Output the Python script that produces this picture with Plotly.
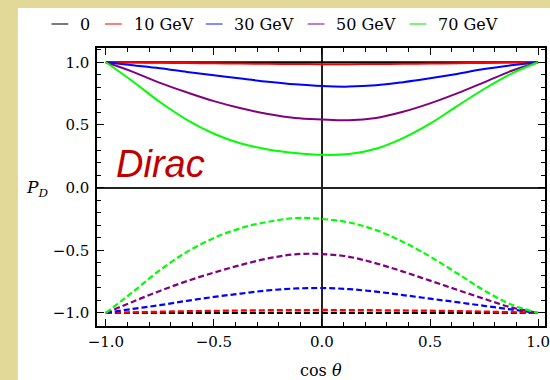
import plotly.graph_objects as go

# Polarisation P_D of the Dirac case versus cos(theta), for several energies
labels = ["0", "10 GeV", "30 GeV", "50 GeV", "70 GeV"]
colors = ["#000000", "#FF0000", "#0000FF", "#800080", "#00FF00"]
legend_colors = ["#505050", "#FF5050", "#6060FF", "#B050B0", "#50F050"]

cos_theta = [-1, -0.875, -0.75, -0.625, -0.5, -0.375, -0.25, -0.125, 0,
             0.125, 0.25, 0.375, 0.5, 0.625, 0.75, 0.875, 1]

# upper branch (solid)
p_plus = [
    [1.0] * 17,
    [1, 0.998, 0.996, 0.994, 0.992, 0.99, 0.988, 0.986, 0.985, 0.985, 0.986, 0.988, 0.99, 0.992, 0.995, 0.998, 1],
    [1, 0.976, 0.952, 0.923, 0.896, 0.87, 0.845, 0.824, 0.81, 0.806, 0.816, 0.841, 0.872, 0.907, 0.946, 0.976, 1],
    [1, 0.924, 0.836, 0.76, 0.69, 0.633, 0.587, 0.555, 0.543, 0.537, 0.556, 0.605, 0.672, 0.752, 0.84, 0.93, 1],
    [1, 0.847, 0.683, 0.541, 0.43, 0.352, 0.305, 0.277, 0.262, 0.268, 0.31, 0.395, 0.51, 0.65, 0.787, 0.908, 1],
]
# lower branch (dashed)
p_minus = [
    [-1.0] * 17,
    [-1, -0.995, -0.99, -0.986, -0.983, -0.98, -0.978, -0.977, -0.976, -0.977, -0.978, -0.98, -0.982, -0.985, -0.989, -0.994, -1],
    [-1, -0.967, -0.938, -0.903, -0.872, -0.845, -0.82, -0.805, -0.801, -0.81, -0.83, -0.857, -0.886, -0.914, -0.943, -0.972, -1],
    [-1, -0.91, -0.824, -0.746, -0.678, -0.617, -0.565, -0.532, -0.53, -0.552, -0.604, -0.67, -0.742, -0.815, -0.887, -0.955, -1],
    [-1, -0.832, -0.658, -0.513, -0.402, -0.323, -0.273, -0.243, -0.25, -0.278, -0.339, -0.433, -0.55, -0.683, -0.82, -0.932, -1],
]

x_ticks = [-1.0, -0.5, 0.0, 0.5, 1.0]
y_ticks = [-1.0, -0.5, 0.0, 0.5, 1.0]

W, H = 550, 380
L, R, T, B = 97, 0, 48, 54
KHAKI = "#E2D898"
SERIF = "DejaVu Serif"


def px_x(px):
    return (px - L) / (W - L - R)


def px_y(py):
    return (H - B - py) / (H - T - B)


fig = go.Figure()
for ys, c in zip(p_plus, colors):
    fig.add_trace(go.Scatter(x=cos_theta, y=ys, mode="lines",
                             line=dict(color=c, width=2, shape="spline"),
                             showlegend=False, hoverinfo="skip"))
for ys, c in zip(p_minus, colors):
    fig.add_trace(go.Scatter(x=cos_theta, y=ys, mode="lines",
                             line=dict(color=c, width=2.2, shape="spline", dash="6px,3px"),
                             showlegend=False, hoverinfo="skip"))

shapes = [
    # white sheet over the khaki page
    dict(type="rect", xref="paper", yref="paper", layer="below",
         x0=px_x(17), x1=px_x(560), y0=px_y(8), y1=px_y(390),
         fillcolor="white", line=dict(width=0)),
]
annotations = []

# legend row across the top
legend_line_x = [51, 105, 207, 310, 413]
for lx, lab, lc in zip(legend_line_x, labels, legend_colors):
    shapes.append(dict(type="line", xref="paper", yref="paper",
                       x0=px_x(lx), x1=px_x(lx + 17), y0=px_y(24), y1=px_y(24),
                       line=dict(color=lc, width=1.5)))
    annotations.append(dict(text=lab, xref="paper", yref="paper",
                            x=px_x(lx + 27), y=px_y(24.5), xanchor="left", yanchor="middle",
                            showarrow=False, font=dict(family=SERIF, size=16, color="black")))

annotations += [
    dict(text="<i>Dirac</i>", xref="paper", yref="paper", x=px_x(114), y=px_y(164),
         xanchor="left", yanchor="middle", showarrow=False,
         font=dict(family="Liberation Sans", size=38, color="#C00000")),
    dict(text="<i>P</i><sub><i>D</i></sub>", xref="paper", yref="paper",
         x=px_x(36), y=px_y(188), xanchor="center", yanchor="middle", showarrow=False,
         font=dict(family=SERIF, size=17, color="black")),
    dict(text="cos <i>θ</i>", xref="paper", yref="paper",
         x=px_x(323), y=px_y(370), xanchor="center", yanchor="middle", showarrow=False,
         font=dict(family=SERIF, size=16, color="black")),
]

axis_common = dict(
    showline=True, linecolor="black", linewidth=1.5, mirror="ticks",
    ticks="inside", ticklen=7, tickwidth=1, tickcolor="black",
    showgrid=False, zeroline=True, zerolinecolor="#222222", zerolinewidth=1.5,
    tickformat=".1f", tickfont=dict(family=SERIF, size=15, color="black"),
    ticklabeloverflow="allow",
    minor=dict(dtick=0.1, ticks="inside", ticklen=4, tickcolor="black", showgrid=False),
)

fig.update_layout(
    width=W, height=H,
    margin=dict(l=L, r=R, t=T, b=B),
    paper_bgcolor=KHAKI, plot_bgcolor="white",
    showlegend=False,
    shapes=shapes, annotations=annotations,
    xaxis=dict(range=[-1.041, 1.032], tickvals=x_ticks, ticklabelstandoff=1, **axis_common),
    yaxis=dict(range=[-1.104, 1.114], tickvals=y_ticks, ticklabelstandoff=3, **axis_common),
)

fig.write_html("out.html")
